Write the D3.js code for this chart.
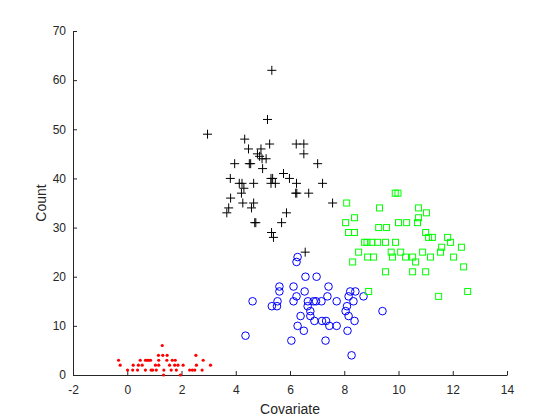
<!DOCTYPE html>
<html>
<head>
<meta charset="utf-8">
<script src="https://cdn.jsdelivr.net/npm/d3@7"></script>
<style>
body{margin:0;background:#fff;}
text{font-family:"Liberation Sans",Arial,sans-serif;fill:#262626;}
</style>
</head>
<body>
<div class="chart"></div>
<script>
// red dots (low counts)
var redX = [1.29, 1.15,1.31,1.47,2.53, -0.32,0.48,0.67,0.73,0.79,0.86,1.16,1.46,1.66,1.77,2.8,
	-0.26,0.22,0.41,0.55,1.04,1.16,1.56,1.75,1.87,2.06,2.55,3.07,
	0.01,0.2,0.38,0.67,0.88,0.94,1.07,1.35,1.62,1.81,2.3,2.4,2.49,2.76, 1.34,1.96]
var redY = [6, 4,4,4,4, 3,3,3,3,3,3,3,3,3,3,3,
	2,2,2,2,2,2,2,2,2,2,2,2,
	1,1,1,1,1,1,1,1,1,1,1,1,1,1, 0,0]

// black crosses
var blackX = [5.33,5.17,2.96,4.33,5.25,6.23,6.51,4.47,4.93,4.8,4.88,4.97,5.12,6.51,3.96,4.5,4.55,7.02,4.99,5.76,
	3.8,5.3,5.36,5.98,4.13,4.23,4.66,5.3,5.46,6.24,7.2,4.3,4.21,6.21,6.25,6.69,3.81,4.26,4.66,4.58,7.57,
	3.74,3.67,5.87,4.7,4.74,5.69,5.32,5.39,6.56]
var blackY = [62,52,49,48,47,47,47,46,46,45,44.5,44,44,45,43,43,43,43,42,41,
	40,40,40,40,39,39,39,39,39,39,39,38,37,37,37,37,36,35,35,34,35,
	34,33,33,31,31,31,29,28,25]

// blue circles
var blueX = [6.28,6.24,6.57,6.98,5.61,6.13,7.42,5.61,6.54,8.22,8.41,6.24,7.38,8.16,8.71,4.62,5.54,6.13,
	6.66,6.87,6.96,7.16,7.72,8.34,5.33,5.52,6.65,8.1,8.05,6.75,9.41,6.39,6.75,8.16,6.9,7.18,7.33,8.38,
	6.28,7.45,7.72,6.51,8.12,4.36,6.05,7.31,8.27]
var blueY = [24,23,20,20,18,18,18,17,17,17,17,16,16,16,16,15,15,15,
	15,15,15,15,15,15,14,14,14,14,13,13,13,12,12,12,11,11,11,11,
	10,10,10,9,9,8,7,7,4]

// green squares
var greenX = [8.09,9.88,9.98,9.3,10.74,11.03,8.38,10.74,8.05,9.27,9.56,10.0,10.3,10.7,8.16,8.38,11.0,
	11.11,11.25,11.81,8.75,8.84,9.02,9.23,9.52,9.89,11.92,11.59,12.32,8.53,9.73,10.08,10.89,11.55,
	8.86,9.08,9.78,10.26,10.52,11.18,12.03,8.31,10.63,12.4,9.52,10.52,11.0,8.9,12.55,11.48]
var greenY = [35,37,37,34,34,33,32,32,31,30,30,31,31,31,29,29,29,
	28,28,28,27,27,27,27,27,27,27,26,26,25,25,25,25,25,
	24,24,24,24,24,24,24,23,23,22,21,21,21,17,17,16]

var xTicks = [-2,0,2,4,6,8,10,12,14]
var yTicks = [0,10,20,30,40,50,60,70]

var width = 560, height = 420
var svg = d3.select(".chart").append("svg").attr("width",width).attr("height",height)

var x = d3.scaleLinear().domain([-2,14]).range([73,507])
var y = d3.scaleLinear().domain([0,70]).range([375,31])

function zip(xs,ys){ return xs.map(function(d,i){return [d,ys[i]]}) }

// axes, MATLAB style: ticks inside, no box
var xAxis = svg.append("g").attr("transform","translate(0,375)")
	.call(d3.axisBottom(x).tickValues(xTicks).tickFormat(function(d){return String(d)})
		.tickSizeInner(-4).tickSizeOuter(0).tickPadding(10))
var yAxis = svg.append("g").attr("transform","translate(73,0)")
	.call(d3.axisLeft(y).tickValues(yTicks).tickFormat(function(d){return String(d)})
		.tickSizeInner(-4).tickSizeOuter(0).tickPadding(7))
;[xAxis,yAxis].forEach(function(a){
	a.select(".domain").attr("stroke","#262626")
	a.selectAll(".tick line").attr("stroke","#262626")
	a.selectAll(".tick text").style("font-size","12px").attr("fill","#262626")
})

svg.append("text").attr("x",290).attr("y",414).attr("text-anchor","middle").style("font-size","14px").text("Covariate")
svg.append("text").attr("transform","translate(46,203) rotate(-90)").attr("text-anchor","middle").style("font-size","14px").text("Count")

// red points
svg.append("g").selectAll("circle").data(zip(redX,redY)).enter().append("circle")
	.attr("cx",function(d){return x(d[0])})
	.attr("cy",function(d){return y(d[1])})
	.attr("r",1.6)
	.attr("fill","#ff0000")

// blue circles
svg.append("g").selectAll("circle").data(zip(blueX,blueY)).enter().append("circle")
	.attr("cx",function(d){return x(d[0])})
	.attr("cy",function(d){return y(d[1])})
	.attr("r",3.8)
	.attr("fill","none")
	.attr("stroke","#0000ff")
	.attr("stroke-width",1)

// green squares
svg.append("g").selectAll("rect").data(zip(greenX,greenY)).enter().append("rect")
	.attr("x",function(d){return x(d[0])-3})
	.attr("y",function(d){return y(d[1])-3})
	.attr("width",6).attr("height",6)
	.attr("fill","none")
	.attr("stroke","#00ff00")
	.attr("stroke-width",1)

// black crosses
svg.append("g").selectAll("path").data(zip(blackX,blackY)).enter().append("path")
	.attr("d",function(d){
		var cx = x(d[0]), cy = y(d[1])
		return "M"+(cx-4.5)+" "+cy+" H "+(cx+4.5)+" M"+cx+" "+(cy-4.5)+" V "+(cy+4.5)
	})
	.attr("stroke","#000")
	.attr("stroke-width",1)
	.attr("fill","none")
</script>
</body>
</html>
